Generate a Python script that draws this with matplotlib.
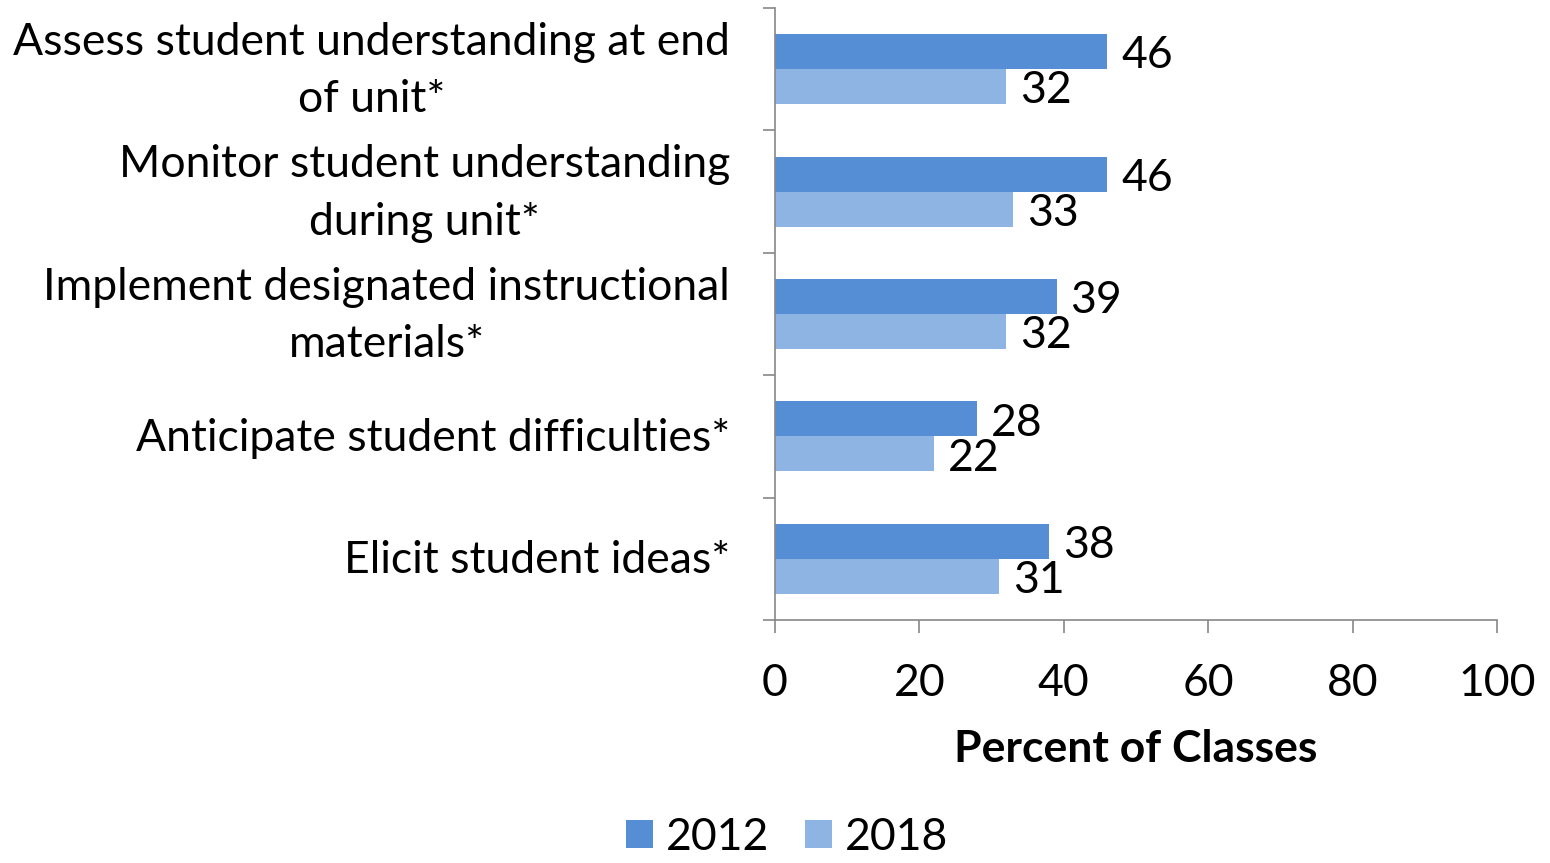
import numpy as np
import matplotlib
matplotlib.use("Agg")
import matplotlib.pyplot as plt
import matplotlib.transforms as mtransforms
from matplotlib.ticker import FixedLocator

plt.rcParams['font.family'] = ['Lato', 'DejaVu Sans']

# Data
categories = [
    "Assess student understanding at end\nof unit*",
    "Monitor student understanding\nduring unit*",
    "Implement designated instructional\nmaterials*",
    "Anticipate student difficulties*",
    "Elicit student ideas*",
]
vals_2012 = [46, 46, 39, 28, 38]
vals_2018 = [32, 33, 32, 22, 31]
series_names = ["2012", "2018"]

c2012 = "#558ED5"
c2018 = "#8EB4E3"
fs = 32

fig = plt.figure(figsize=(15.5, 8.63), dpi=100)
ax = fig.add_axes([0.5, 0.2816, 0.4658, 0.7091])

y = np.arange(len(categories))
h = 0.286
b1 = ax.barh(y - h / 2, vals_2012, height=h, color=c2012, label=series_names[0])
b2 = ax.barh(y + h / 2, vals_2018, height=h, color=c2018, label=series_names[1])
for bars in (b1, b2):
    for t in ax.bar_label(bars, padding=10, fontsize=fs):
        t.set_y(-3)

ax.set_ylim(len(categories) - 0.5, -0.5)
ax.set_xlim(0, 100)
ax.set_xticks(np.arange(0, 101, 20))
ax.set_yticks(y)
ax.set_yticklabels([])

# category labels drawn as text, right-aligned against the axis
lab_tr = ax.get_yaxis_transform() + mtransforms.ScaledTranslation(-45 / 100, -2 / 100, fig.dpi_scale_trans)
for yi, cat in zip(y, categories):
    ax.text(0, yi, cat, transform=lab_tr, ha="right", va="center", multialignment="center",
            fontsize=fs, linespacing=1.5)

ax.yaxis.set_minor_locator(FixedLocator(np.arange(-0.5, len(categories), 1)))
ax.tick_params(axis="y", which="major", length=0)
ax.tick_params(axis="y", which="minor", length=9, color="#888888", width=1.2)
ax.tick_params(axis="x", length=9, color="#888888", width=1.2, pad=22, labelsize=fs)

for s in ["top", "right"]:
    ax.spines[s].set_visible(False)
for s in ["left", "bottom"]:
    ax.spines[s].set_color("#888888")
    ax.spines[s].set_linewidth(1.2)

ax.set_xlabel("Percent of Classes", fontsize=fs, fontweight="bold", labelpad=18)

fig.legend(handles=[b1, b2], labels=series_names, loc="center", bbox_to_anchor=(0.508, 0.03),
           ncol=2, frameon=False, fontsize=fs, handlelength=0.6, handleheight=0.6,
           handletextpad=0.3, columnspacing=0.8)

fig.savefig("out.png", dpi=100)
